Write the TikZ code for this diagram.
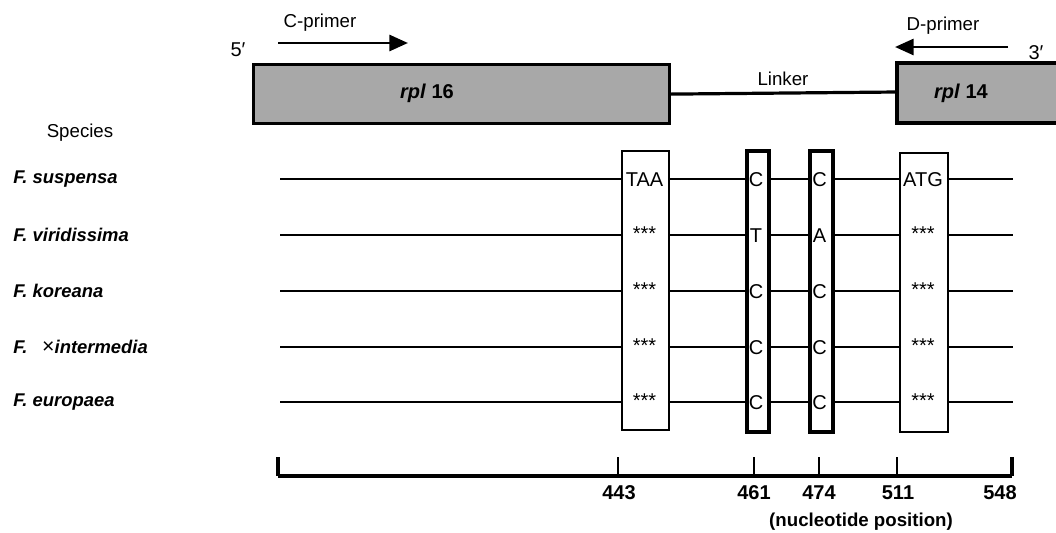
\documentclass[tikz,border=0pt]{standalone}
\usepackage{fontspec}
\setmainfont{Liberation Sans}
\usetikzlibrary{arrows.meta}
\definecolor{genegray}{RGB}{168,168,168}
\tikzset{
  lbl/.style={inner sep=0pt, font=\fontsize{14}{16}\selectfont},
  boldlbl/.style={inner sep=0pt, font=\fontsize{14}{16}\selectfont\bfseries},
  sp/.style={inner sep=0pt, anchor=west, font=\fontsize{13.8}{15}\selectfont\bfseries\itshape},
  num/.style={inner sep=0pt, font=\fontsize{15}{17}\selectfont\bfseries},
  gene/.style={draw, fill=genegray, line width=2.4pt},
  seq/.style={line width=2pt},
  thinbox/.style={draw, fill=white, line width=1.3pt},
  thickbox/.style={draw, fill=white, line width=2.8pt},
  primer/.style={line width=2.2pt, -{Triangle[length=14pt,width=12pt]}},
  base/.style={inner sep=0pt, anchor=base, font=\fontsize{15}{17}\selectfont},
  star/.style={inner sep=0pt, font=\fontsize{15}{17}\selectfont},
  tickthin/.style={line width=1.3pt},
  tickthick/.style={line width=2.6pt},
}
\begin{document}
\begin{tikzpicture}[x=0.75pt,y=-0.75pt]
\useasboundingbox (0,0) rectangle (1056,532);
% genes
\fill[genegray] (897,63) rectangle (1060,123);
\draw[line width=2.4pt] (1060,63) -- (897,63) -- (897,123) -- (1060,123);
\coordinate (r14w) at (897,92);
\node[gene, minimum width=416*0.75pt, minimum height=59*0.75pt, inner sep=0pt, anchor=north west] (rpl16) at (252,63) {};
\draw[line width=2.4pt] (rpl16.east) -- (r14w);
\node[boldlbl, font=\fontsize{15}{17}\selectfont\bfseries] (g16) at (427,93) {\textit{rpl} 16};
\node[boldlbl, font=\fontsize{15}{17}\selectfont\bfseries] (g14) at (961,93) {\textit{rpl} 14};
\node[lbl] (linker) at (783,79) {Linker};
% primers
\coordinate (cs) at (278,43); \coordinate (ce) at (408,43);
\draw[primer] (cs) -- (ce);
\node[lbl] (cp) at (320,23) {C-primer};
\coordinate (ds) at (1008,47); \coordinate (de) at (895,47);
\draw[primer] (ds) -- (de);
\node[lbl] (dp) at (943,26) {D-primer};
\node[lbl, font=\fontsize{15}{17}\selectfont] (five) at (238,50) {5′};
\node[lbl, font=\fontsize{15}{17}\selectfont] (three) at (1036,53) {3′};
% species
\node[lbl] (species) at (80,133) {Species};
\foreach \y/\n/\t in {179/s1/{F. suspensa},235/s2/{F. viridissima},291/s3/{F. koreana},347/s4/{F.\hspace{11pt}{\fontsize{16}{17}\selectfont\mdseries\upshape ×}intermedia},402/s5/{F. europaea}}{
  \node[sp] (\n) at (13,\y) {\t};
  \draw[seq] (280,\y) -- (1013,\y);
}
% boxes
\node[thinbox, anchor=north west, minimum width=47*0.75pt, minimum height=279*0.75pt, inner sep=0pt] (b1) at (621,150) {};
\node[thickbox, anchor=north west, minimum width=22*0.75pt, minimum height=281*0.75pt, inner sep=0pt] (b2) at (745,149) {};
\node[thickbox, anchor=north west, minimum width=23*0.75pt, minimum height=281*0.75pt, inner sep=0pt] (b3) at (808,149) {};
\node[thinbox, anchor=north west, minimum width=48*0.75pt, minimum height=279*0.75pt, inner sep=0pt] (b4) at (899,152) {};
% box contents
\node[base] (t1) at (644.5,186) {TAA};
\node[base] (t2) at (756,186) {C};
\node[base] (t3) at (819.5,186) {C};
\node[base] (t4) at (923,186) {ATG};
\foreach \y/\a/\b [count=\i] in {235/T/A,291/C/C,347/C/C,402/C/C}{
  \node[star] (sa\i) at (644.5,\y-1) {***};
  \node[base] (ca\i) at (756,\y+7) {\a};
  \node[base] (cb\i) at (819.5,\y+7) {\b};
  \node[star] (sb\i) at (923,\y-1) {***};
}
% axis
\coordinate (a0) at (278,476); \coordinate (a5) at (1012,476);
\draw[line width=2.6pt] (a0) -- (a5);
\draw[tickthick] (278,457) -- (a0);
\draw[tickthick] (1012,457) -- (a5);
\foreach \x in {618,754,819,897}{\draw[tickthin] (\x,457) -- (\x,476);}
\node[num] (n1) at (619,493) {443};
\node[num] (n2) at (754,493) {461};
\node[num] (n3) at (819,493) {474};
\node[num] (n4) at (898,493) {511};
\node[num] (n5) at (1000,493) {548};
\node[boldlbl] (np) at (861,522) {(nucleotide position)};
\end{tikzpicture}
\end{document}
